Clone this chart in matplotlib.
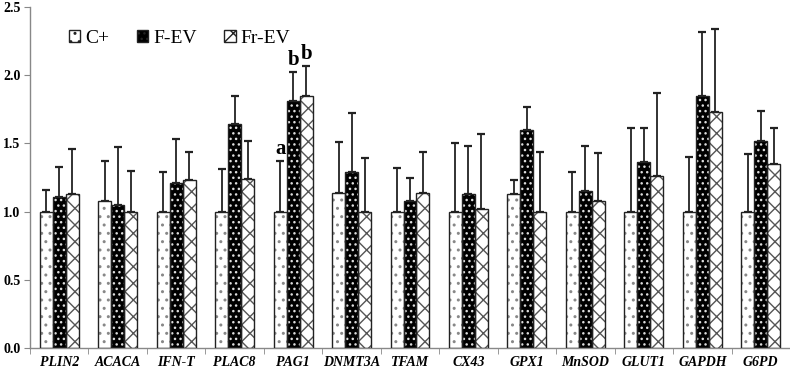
import matplotlib
matplotlib.use("Agg")
import matplotlib.pyplot as plt
import numpy as np

genes = ["PLIN2", "ACACA", "IFN-T", "PLAC8", "PAG1", "DNMT3A", "TFAM", "CX43",
         "GPX1", "MnSOD", "GLUT1", "GAPDH", "G6PD"]
c_plus = [1.00, 1.08, 1.00, 1.00, 1.00, 1.14, 1.00, 1.00, 1.13, 1.00, 1.00, 1.00, 1.00]
c_plus_top = [1.16, 1.37, 1.29, 1.31, 1.37, 1.51, 1.32, 1.50, 1.23, 1.29, 1.61, 1.40, 1.42]
f_ev = [1.11, 1.05, 1.21, 1.64, 1.81, 1.29, 1.08, 1.13, 1.60, 1.15, 1.36, 1.85, 1.52]
f_ev_top = [1.33, 1.47, 1.53, 1.85, 2.02, 1.72, 1.25, 1.48, 1.77, 1.48, 1.61, 2.32, 1.74]
fr_ev = [1.13, 1.00, 1.23, 1.24, 1.85, 1.00, 1.14, 1.02, 1.00, 1.08, 1.26, 1.73, 1.35]
fr_ev_top = [1.46, 1.30, 1.44, 1.52, 2.07, 1.39, 1.44, 1.57, 1.44, 1.43, 1.87, 2.34, 1.61]
series_names = ["C+", "F-EV", "Fr-EV"]
sig_gene = "PAG1"
sig_letters = ["a", "b", "b"]

plt.rcParams['hatch.linewidth'] = 1.0
serif = ["Liberation Serif", "DejaVu Serif"]

fig = plt.figure(figsize=(7.9, 3.71), dpi=100)
ax = fig.add_axes([30/790, 23/371, 760/790, 341/371])

x = np.arange(len(genes))
w = 0.222
series = [(c_plus, c_plus_top), (f_ev, f_ev_top), (fr_ev, fr_ev_top)]
styles = [
    dict(face="white", hatch="..", hcolor="#888888"),
    dict(face="black", hatch="...", hcolor="#dddddd"),
    dict(face="white", hatch="xx", hcolor="#555555"),
]
handles = []
for i, ((vals, tops), st) in enumerate(zip(series, styles)):
    pos = x + (i - 1) * w
    vals = np.array(vals)
    tops = np.array(tops)
    ax.bar(pos, vals, w, color=st["face"], edgecolor=st["hcolor"], hatch=st["hatch"],
           linewidth=0, zorder=2)
    ax.bar(pos, vals, w, color="none", edgecolor="#222222", linewidth=1.0, zorder=3)
    err = tops - vals
    ax.errorbar(pos, vals, yerr=[np.zeros_like(err), err], fmt="none", ecolor="#222222",
                elinewidth=1.3, capsize=3.2, capthick=1.6, zorder=1)
    h = plt.Rectangle((0, 0), 1, 1, facecolor=st["face"], edgecolor=st["hcolor"],
                      hatch=st["hatch"], linewidth=0)
    handles.append(h)

# significance letters
gi = genes.index(sig_gene)
for i, (s, (vals, tops)) in enumerate(zip(sig_letters, series)):
    ax.text(gi + (i - 1) * w, tops[gi] + 0.015, s, ha="center", va="bottom",
            fontsize=15, fontweight="bold", family=serif)

ax.set_xlim(-0.5, len(genes) - 0.5)
ax.set_ylim(0, 2.5)
ax.set_yticks(np.arange(0, 2.51, 0.5))
ax.set_yticklabels([f"{v:.1f}" for v in np.arange(0, 2.51, 0.5)],
                   fontsize=10, fontweight="bold", family=serif)
ax.set_xticks(x)
ax.set_xticklabels(genes, fontsize=10, fontweight="bold", style="italic", family=serif)
ax.set_xticks(np.arange(-0.5, len(genes), 1), minor=True)
ax.tick_params(axis="x", which="major", length=0, pad=6)
ax.tick_params(axis="x", which="minor", length=4, color="#888888", direction="out")
ax.tick_params(axis="y", length=4, color="#888888", direction="out", pad=3)
for s in ["top", "right"]:
    ax.spines[s].set_visible(False)
for s in ["left", "bottom"]:
    ax.spines[s].set_color("#888888")
    ax.spines[s].set_linewidth(1.0)

leg = ax.legend(handles, series_names, loc="upper left", bbox_to_anchor=(0.028, 0.985),
                ncol=3, frameon=False, prop=dict(family=serif, size=14),
                handlelength=0.6, handleheight=0.6, handletextpad=0.25, columnspacing=1.4)
for lh in leg.legend_handles:
    lh.set_edgecolor("#222222")
    lh.set_linewidth(1.0)

fig.savefig("out.png", dpi=100)
